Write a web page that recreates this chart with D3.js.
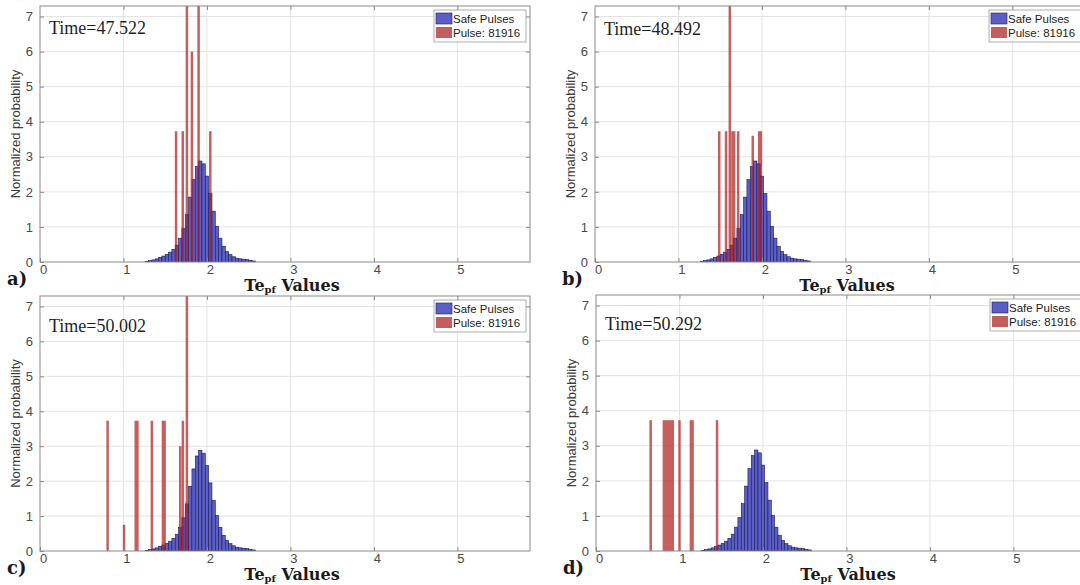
<!DOCTYPE html>
<html>
<head>
<meta charset="utf-8">
<script src="https://cdn.jsdelivr.net/npm/d3@7"></script>
<style>
  html, body { margin: 0; padding: 0; background: #fff; }
  svg { display: block; }
</style>
</head>
<body>
<svg id="chart" width="1080" height="585"></svg>
<script>
// Panel tags and snapshot times
const panelTags = ["a)", "b)", "c)", "d)"];
const panelTimes = ["47.522", "48.492", "50.002", "50.292"];

// Axis ticks
const xTickValues = [0, 1, 2, 3, 4, 5];
const yTickValues = [0, 1, 2, 3, 4, 5, 6, 7];

// Safe pulses: histogram bin left edges and normalized probabilities
const safeBinWidth = 0.04;
const safeEdges = [1.26, 1.30, 1.34, 1.38, 1.42, 1.46, 1.50, 1.54, 1.58, 1.62, 1.66, 1.70, 1.74,
  1.78, 1.82, 1.86, 1.90, 1.94, 1.98, 2.02, 2.06, 2.10, 2.14, 2.18, 2.22, 2.26, 2.30, 2.34,
  2.38, 2.42, 2.46, 2.50, 2.54];
const safeProb = [0.02, 0.04, 0.06, 0.09, 0.13, 0.17, 0.22, 0.28, 0.36, 0.48, 0.68, 0.95, 1.35,
  1.85, 2.35, 2.72, 2.88, 2.80, 2.45, 1.95, 1.45, 1.02, 0.68, 0.45, 0.30, 0.21, 0.15, 0.11,
  0.09, 0.08, 0.07, 0.05, 0.03];

// Pulse 81916 bins per panel: [left, right, normalized probability]
const pulseA = [[1.615, 1.645, 3.73], [1.695, 1.725, 3.73], [1.745, 1.775, 7.46],
  [1.805, 1.835, 6.00], [1.885, 1.915, 7.46], [2.025, 2.055, 3.73]];
const pulseB = [[1.473, 1.503, 3.73], [1.555, 1.585, 3.73], [1.600, 1.630, 7.46],
  [1.632, 1.682, 3.73], [1.700, 1.730, 3.73], [1.875, 1.905, 3.60], [1.952, 2.002, 3.73]];
const pulseC = [[0.795, 0.825, 3.73], [0.992, 1.022, 0.75], [1.132, 1.182, 3.73],
  [1.325, 1.355, 3.73], [1.458, 1.508, 3.73], [1.665, 1.695, 3.00], [1.697, 1.727, 3.73],
  [1.745, 1.775, 7.46]];
const pulseD = [[0.640, 0.670, 3.73], [0.798, 0.935, 3.73], [0.985, 1.015, 3.73],
  [1.122, 1.172, 3.73], [1.435, 1.465, 3.73]];
const pulseSets = [pulseA, pulseB, pulseC, pulseD];

const legendLabels = ["Safe Pulses", "Pulse: 81916"];

// Layout of the four panels
const frames = [
  { left: 40,  top: 6,   width: 490, height: 256, timeDy: 28 },
  { left: 595, top: 6,   width: 490, height: 256, timeDy: 29 },
  { left: 40,  top: 296, width: 490, height: 255, timeDy: 36 },
  { left: 596, top: 295, width: 490, height: 256, timeDy: 35 }
];

const blueFill = "#5b5ec6", blueEdge = "#1b1b55";
const redFill = "rgb(172,28,28)", redOpacity = 0.7;
const boxColor = "#8a8a8a", gridColor = "#e3e3e3", tickText = "#4a4a4a";

const svg = d3.select("#chart");
const defs = svg.append("defs");

frames.forEach((f, i) => {
  const x = d3.scaleLinear().domain([0, 5.87]).range([0, f.width]);
  const y = d3.scaleLinear().domain([0, 7.3]).range([f.height, 0]);
  const g = svg.append("g").attr("transform", `translate(${f.left},${f.top})`);

  defs.append("clipPath").attr("id", "clip" + i)
    .append("rect").attr("width", f.width).attr("height", f.height);

  // grid
  g.append("g").selectAll("line").data(xTickValues.filter(d => d > 0)).join("line")
    .attr("x1", d => x(d)).attr("x2", d => x(d)).attr("y1", 0).attr("y2", f.height)
    .attr("stroke", gridColor).attr("stroke-width", 1);
  g.append("g").selectAll("line").data(yTickValues.filter(d => d > 0)).join("line")
    .attr("y1", d => y(d)).attr("y2", d => y(d)).attr("x1", 0).attr("x2", f.width)
    .attr("stroke", gridColor).attr("stroke-width", 1);

  const plot = g.append("g").attr("clip-path", `url(#clip${i})`);

  // safe pulse histogram
  plot.append("g").selectAll("rect").data(safeEdges.map((e, k) => [e, safeProb[k]])).join("rect")
    .attr("x", d => x(d[0])).attr("width", x(safeBinWidth) - x(0))
    .attr("y", d => y(d[1])).attr("height", d => y(0) - y(d[1]))
    .attr("fill", blueFill).attr("stroke", blueEdge).attr("stroke-width", 0.6);

  // pulse histogram
  plot.append("g").selectAll("rect").data(pulseSets[i]).join("rect")
    .attr("x", d => x(d[0])).attr("width", d => x(d[1]) - x(d[0]))
    .attr("y", d => y(d[2])).attr("height", d => y(0) - y(d[2]))
    .attr("fill", redFill).attr("fill-opacity", redOpacity);

  // axes
  const fmt = d3.format("d");
  const xAxis = d3.axisBottom(x).tickValues(xTickValues).tickFormat(fmt).tickSize(-4).tickPadding(3);
  const yAxis = d3.axisLeft(y).tickValues(yTickValues).tickFormat(fmt).tickSize(-4).tickPadding(7);
  const ax = g.append("g").attr("transform", `translate(0,${f.height})`).call(xAxis);
  const ay = g.append("g").call(yAxis);
  ax.selectAll("text").attr("dx", 3);
  g.append("g").call(d3.axisTop(x).tickValues(xTickValues.filter(d => d > 0)).tickSize(-4).tickFormat(""));
  g.append("g").attr("transform", `translate(${f.width},0)`)
    .call(d3.axisRight(y).tickValues(yTickValues.filter(d => d > 0)).tickSize(-4).tickFormat(""));
  svg.selectAll(".domain").remove();
  g.selectAll(".tick line").attr("stroke", boxColor);
  [ax, ay].forEach(a => a.selectAll("text")
    .attr("fill", tickText).style("font-family", "Liberation Sans, Arial, sans-serif").style("font-size", "13px"));

  // box
  g.append("rect").attr("width", f.width).attr("height", f.height)
    .attr("fill", "none").attr("stroke", boxColor).attr("stroke-width", 1);

  // y label
  g.append("text")
    .attr("transform", `translate(${-20},${f.height / 2}) rotate(-90)`)
    .attr("text-anchor", "middle")
    .attr("fill", "#3c3c3c")
    .style("font-family", "Liberation Sans, Arial, sans-serif").style("font-size", "13px")
    .text("Normalized probability");

  // x label
  const xl = g.append("text")
    .attr("x", 252).attr("y", f.height + 29)
    .attr("text-anchor", "middle")
    .attr("fill", "#1a1a1a")
    .style("font-family", "DejaVu Serif, serif").style("font-weight", "bold").style("font-size", "16px");
  xl.append("tspan").text("Te");
  xl.append("tspan").attr("dy", 2).style("font-size", "10px").text("pf");
  xl.append("tspan").attr("dy", -2).text(" Values");

  // panel tag
  g.append("text")
    .attr("x", -33).attr("y", f.height + 23)
    .attr("fill", "#1a1a1a")
    .style("font-family", "DejaVu Serif, serif").style("font-weight", "bold").style("font-size", "18px")
    .text(panelTags[i]);

  // time annotation
  g.append("text")
    .attr("x", 9).attr("y", f.timeDy)
    .attr("fill", "#1f1f1f")
    .style("font-family", "Liberation Serif, serif").style("font-size", "18px")
    .text("Time=" + panelTimes[i]);

  // legend
  const lg = g.append("g").attr("transform", `translate(${f.width - 96},4)`);
  lg.append("rect").attr("width", 92).attr("height", 32)
    .attr("fill", "#fff").attr("stroke", "#9a9a9a").attr("stroke-width", 0.8);
  legendLabels.forEach((lab, k) => {
    lg.append("rect").attr("x", 2).attr("y", 3 + k * 14).attr("width", 16).attr("height", 11)
      .attr("fill", k === 0 ? blueFill : "rgb(195,94,94)")
      .attr("stroke", k === 0 ? blueEdge : "none").attr("stroke-width", 0.6);
    lg.append("text").attr("x", 19).attr("y", 12.5 + k * 14)
      .attr("fill", "#222")
      .style("font-family", "Liberation Sans, Arial, sans-serif").style("font-size", "11.5px")
      .text(lab);
  });
});
</script>
</body>
</html>
